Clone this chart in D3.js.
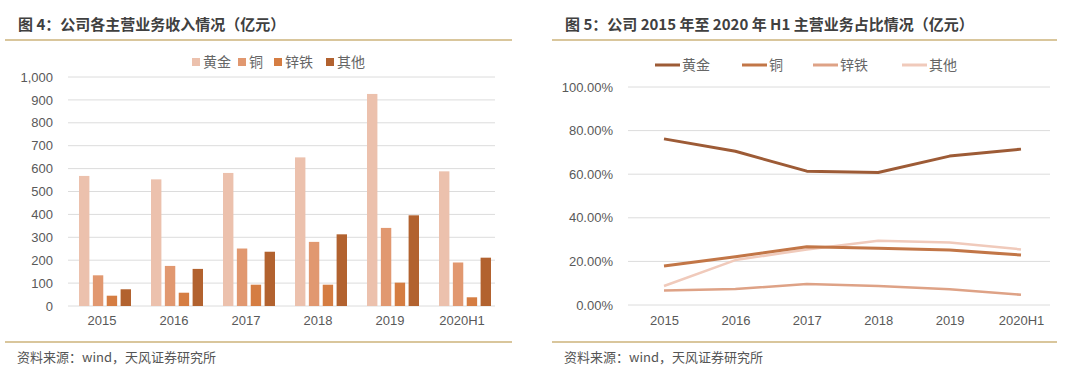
<!DOCTYPE html>
<html>
<head>
<meta charset="utf-8">
<script src="https://cdn.jsdelivr.net/npm/d3@7"></script>
<style>
  body { margin: 0; background: #fff; }
  svg { display: block; font-family: "Liberation Sans", "Noto Sans CJK SC", sans-serif; }
</style>
</head>
<body>
<svg id="chart" width="1080" height="375"></svg>
<script>
// data
const years = ['2015', '2016', '2017', '2018', '2019', '2020H1'];
const seriesNames = ['黄金', '铜', '锌铁', '其他'];

// revenue, 亿元
const revGold = [568, 553, 581, 649, 926, 588];
const revCopper = [134, 175, 251, 280, 341, 190];
const revZinc = [45, 58, 93, 93, 102, 38];
const revOther = [73, 162, 237, 313, 396, 211];

// share, %
const shareGold = [76.2, 70.5, 61.4, 60.8, 68.3, 71.5];
const shareCopper = [17.9, 22.1, 26.7, 26.0, 25.2, 22.9];
const shareZinc = [6.6, 7.3, 9.6, 8.7, 7.2, 4.7];
const shareOther = [8.7, 20.6, 25.5, 29.5, 28.7, 25.5];

const revTicks = [0, 100, 200, 300, 400, 500, 600, 700, 800, 900, 1000];
const shareTicks = [0, 20, 40, 60, 80, 100];

const barColors = ['#ecc1ad', '#e19870', '#d57d42', '#b2622f'];
const lineColors = ['#9d5b36', '#c27647', '#dea286', '#f0cabb'];

const svg = d3.select('#chart');
const cjk = '"Noto Sans CJK SC", "Liberation Sans", sans-serif';
const ruleColor = '#d9c69c';

// panel frames: titles, rules, source
function frame(x0, x1, title) {
  svg.append('text')
    .attr('x', x0 + 13).attr('y', 30)
    .attr('font-family', cjk).attr('font-weight', 'bold')
    .attr('font-size', 15).attr('fill', '#404040')
    .text(title);
  [40, 342].forEach(y => {
    svg.append('line')
      .attr('x1', x0).attr('x2', x1).attr('y1', y).attr('y2', y)
      .attr('stroke', ruleColor).attr('stroke-width', 2);
  });
  svg.append('text')
    .attr('x', x0 + 12).attr('y', 362)
    .attr('font-family', cjk).attr('font-size', 13).attr('fill', '#555')
    .text('资料来源：wind，天风证券研究所');
}
frame(5, 512, '图 4：公司各主营业务收入情况（亿元）');
frame(552, 1057, '图 5：公司 2015 年至 2020 年 H1 主营业务占比情况（亿元）');

// ---- left: grouped bars ----
const revSeries = [revGold, revCopper, revZinc, revOther];
const x0 = d3.scaleBand().domain(years).range([66, 498]);
const x1 = d3.scaleBand().domain(seriesNames).range([0, 52]).paddingInner(0.25);
const yRev = d3.scaleLinear().domain([0, 1000]).range([306, 77]);

const left = svg.append('g');
left.append('g')
  .selectAll('line').data(revTicks).join('line')
  .attr('x1', 68).attr('x2', 495)
  .attr('y1', d => yRev(d)).attr('y2', d => yRev(d))
  .attr('stroke', '#dcdcdc').attr('stroke-width', 1);

const yAxisL = left.append('g')
  .attr('transform', 'translate(56,0)')
  .call(d3.axisLeft(yRev).tickValues(revTicks).tickFormat(d3.format(',')).tickSize(0));
yAxisL.select('.domain').remove();
yAxisL.selectAll('text').attr('font-size', 13).attr('fill', '#595959')
  .attr('font-family', '"Liberation Sans", sans-serif');

left.append('g')
  .selectAll('g').data(years).join('g')
  .attr('transform', d => `translate(${x0(d) + (x0.bandwidth() - 52) / 2 + 3},0)`)
  .selectAll('rect')
  .data((d, i) => seriesNames.map((s, j) => ({ s, j, v: revSeries[j][i] })))
  .join('rect')
  .attr('x', d => x1(d.s))
  .attr('width', x1.bandwidth())
  .attr('y', d => yRev(d.v))
  .attr('height', d => yRev(0) - yRev(d.v))
  .attr('fill', d => barColors[d.j]);

const xAxisL = left.append('g')
  .attr('transform', 'translate(0,313)')
  .call(d3.axisBottom(x0).tickSize(0));
xAxisL.select('.domain').remove();
xAxisL.selectAll('text').attr('font-size', 13).attr('fill', '#595959')
  .attr('font-family', '"Liberation Sans", sans-serif');

// bar legend
const legL = left.append('g').attr('transform', 'translate(192,62)');
const legLx = [0, 46, 82, 134];
seriesNames.forEach((s, i) => {
  const g = legL.append('g').attr('transform', `translate(${legLx[i]},0)`);
  g.append('rect').attr('x', 0).attr('y', -4).attr('width', 8).attr('height', 8)
    .attr('fill', barColors[i]);
  g.append('text').attr('x', 11).attr('y', 5)
    .attr('font-family', cjk).attr('font-size', 14).attr('fill', '#666')
    .text(s);
});

// ---- right: share lines ----
const shareSeries = [shareGold, shareCopper, shareZinc, shareOther];
const xs = d3.scalePoint().domain(years).range([664, 1021]);
const yShare = d3.scaleLinear().domain([0, 100]).range([305, 87]);

const right = svg.append('g');
right.append('g')
  .selectAll('line').data(shareTicks).join('line')
  .attr('x1', 628).attr('x2', 1050)
  .attr('y1', d => yShare(d)).attr('y2', d => yShare(d))
  .attr('stroke', '#dcdcdc').attr('stroke-width', 1);

const yAxisR = right.append('g')
  .attr('transform', 'translate(616,0)')
  .call(d3.axisLeft(yShare).tickValues(shareTicks).tickFormat(d => d.toFixed(2) + '%').tickSize(0));
yAxisR.select('.domain').remove();
yAxisR.selectAll('text').attr('font-size', 13).attr('fill', '#595959')
  .attr('font-family', '"Liberation Sans Narrow", "Liberation Sans", sans-serif');

const xAxisR = right.append('g')
  .attr('transform', 'translate(0,313)')
  .call(d3.axisBottom(xs).tickSize(0));
xAxisR.select('.domain').remove();
xAxisR.selectAll('text').attr('font-size', 13).attr('fill', '#595959')
  .attr('font-family', '"Liberation Sans", sans-serif');

const line = d3.line().x((d, i) => xs(years[i])).y(d => yShare(d));
// draw lighter ones first so the dark lines sit on top
[3, 2, 1, 0].forEach(i => {
  right.append('path')
    .datum(shareSeries[i])
    .attr('d', line)
    .attr('fill', 'none')
    .attr('stroke', lineColors[i])
    .attr('stroke-width', i < 2 ? 3 : 2.5)
    .attr('stroke-linejoin', 'round');
});

// line legend
const legRx = [655, 742, 813, 902];
seriesNames.forEach((s, i) => {
  right.append('line')
    .attr('x1', legRx[i]).attr('x2', legRx[i] + 25)
    .attr('y1', 65).attr('y2', 65)
    .attr('stroke', lineColors[i]).attr('stroke-width', 3);
  right.append('text')
    .attr('x', legRx[i] + 27).attr('y', 70)
    .attr('font-family', cjk).attr('font-size', 14).attr('fill', '#666')
    .text(s);
});
</script>
</body>
</html>
